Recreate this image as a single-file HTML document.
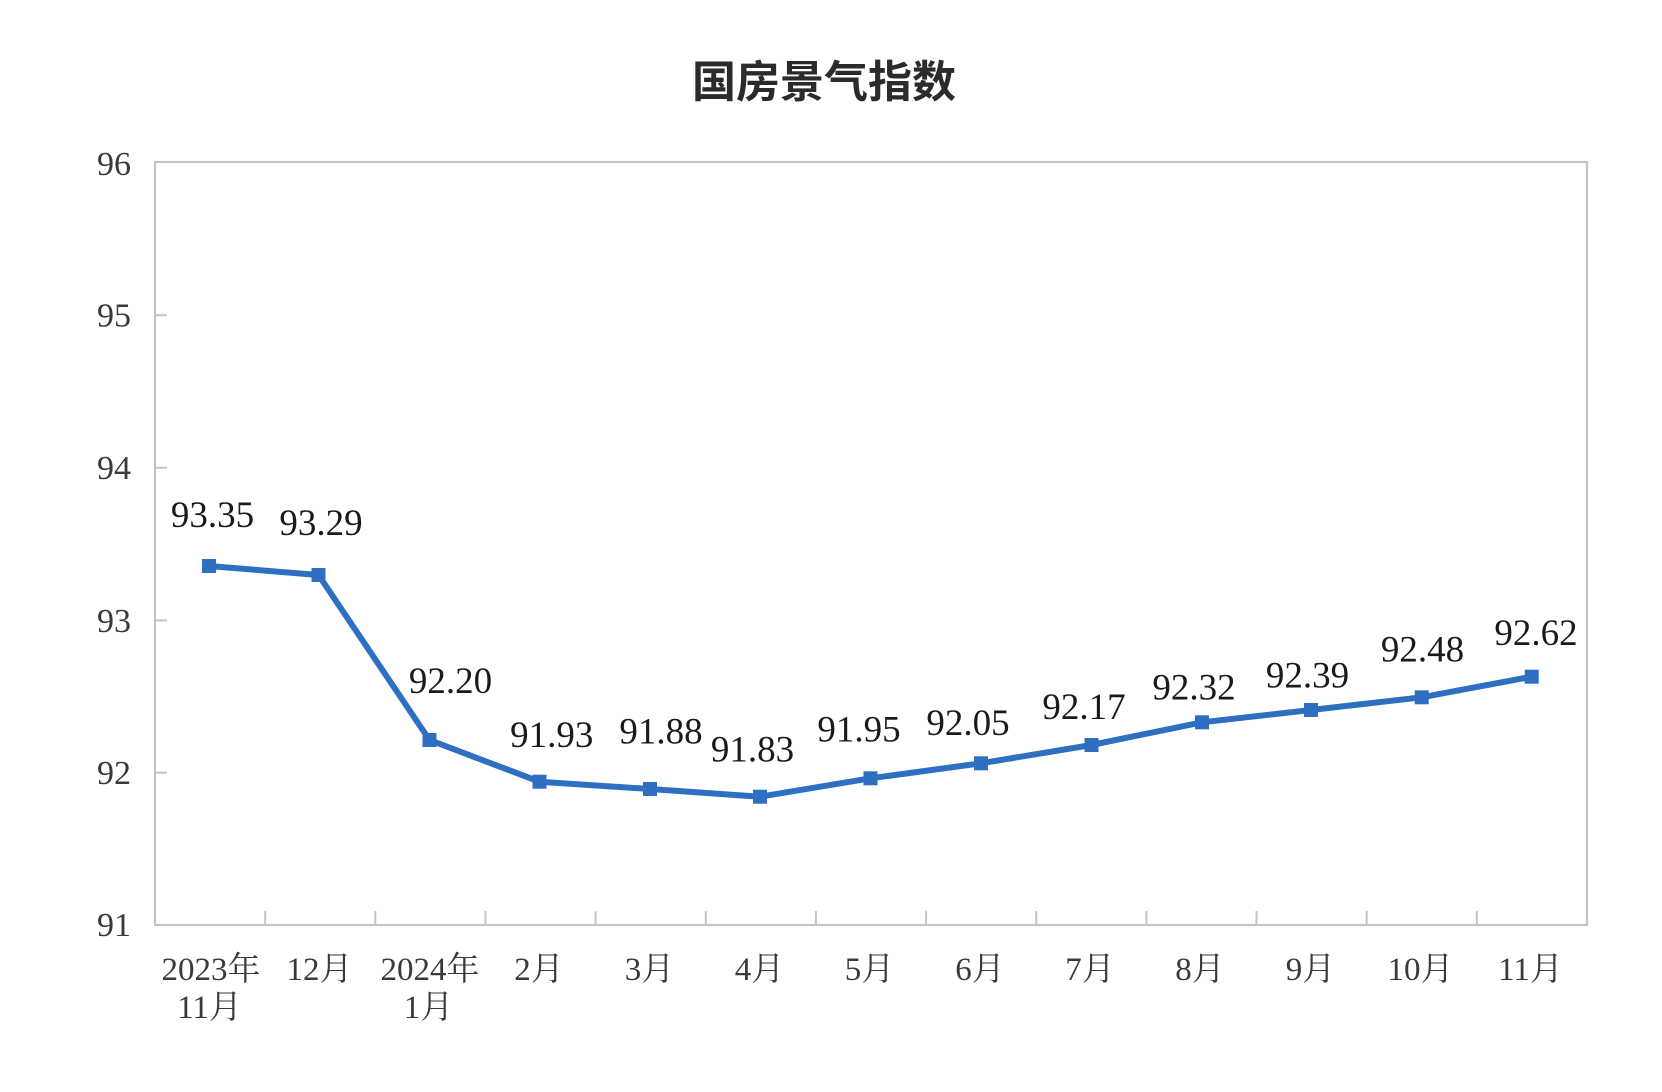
<!DOCTYPE html>
<html>
<head>
<meta charset="utf-8">
<style>
html,body{margin:0;padding:0;background:#fff;}
svg{display:block;}
.t{font-family:"Liberation Serif","Noto Serif CJK SC",serif;}
</style>
</head>
<body>
<svg width="1662" height="1092" viewBox="0 0 1662 1092" xmlns="http://www.w3.org/2000/svg">
<rect width="1662" height="1092" fill="#fff"/>
<!-- title -->
<text x="824" y="97" text-anchor="middle" font-family="'Noto Sans CJK SC','WenQuanYi Zen Hei',sans-serif" font-weight="bold" font-size="44" fill="#2b2b2b">国房景气指数</text>

<!-- plot frame -->
<rect x="155" y="162" width="1432" height="763" fill="none" stroke="#c4c4c4" stroke-width="2.2"/>

<!-- y ticks -->
<g stroke="#c4c4c4" stroke-width="2">
<line x1="155" y1="315.2" x2="167" y2="315.2"/>
<line x1="155" y1="467.8" x2="167" y2="467.8"/>
<line x1="155" y1="620.4" x2="167" y2="620.4"/>
<line x1="155" y1="772.7" x2="167" y2="772.7"/>
</g>
<!-- x ticks -->
<g stroke="#c4c4c4" stroke-width="2">
<line x1="265.2" y1="925" x2="265.2" y2="911"/>
<line x1="375.3" y1="925" x2="375.3" y2="911"/>
<line x1="485.5" y1="925" x2="485.5" y2="911"/>
<line x1="595.6" y1="925" x2="595.6" y2="911"/>
<line x1="705.8" y1="925" x2="705.8" y2="911"/>
<line x1="815.9" y1="925" x2="815.9" y2="911"/>
<line x1="926.1" y1="925" x2="926.1" y2="911"/>
<line x1="1036.2" y1="925" x2="1036.2" y2="911"/>
<line x1="1146.4" y1="925" x2="1146.4" y2="911"/>
<line x1="1256.5" y1="925" x2="1256.5" y2="911"/>
<line x1="1366.7" y1="925" x2="1366.7" y2="911"/>
<line x1="1476.8" y1="925" x2="1476.8" y2="911"/>
</g>

<!-- y labels -->
<g class="t" font-size="34" fill="#3a3a3a" text-anchor="end">
<text x="131" y="175">96</text>
<text x="131" y="326.5">95</text>
<text x="131" y="479">94</text>
<text x="131" y="632">93</text>
<text x="131" y="784">92</text>
<text x="131" y="936">91</text>
</g>

<!-- x labels -->
<g class="t" font-size="33" fill="#3a3a3a" text-anchor="middle">
<text x="211" y="980">2023年</text>
<text x="209.5" y="1018">11月</text>
<text x="319.5" y="980">12月</text>
<text x="430" y="980">2024年</text>
<text x="428.5" y="1018">1月</text>
<text x="539" y="980">2月</text>
<text x="649.5" y="980">3月</text>
<text x="759.5" y="980">4月</text>
<text x="869.5" y="980">5月</text>
<text x="980" y="980">6月</text>
<text x="1090" y="980">7月</text>
<text x="1200" y="980">8月</text>
<text x="1310.5" y="980">9月</text>
<text x="1420.5" y="980">10月</text>
<text x="1530.5" y="980">11月</text>
</g>

<!-- series line -->
<polyline fill="none" stroke="#2e6fc2" stroke-width="6" stroke-linejoin="round"
points="209,566 318.5,575 429.5,740 539.5,781.7 650,789 760,796.7 870.5,778.3 981,763.3 1091.5,745 1202,722.3 1311,710 1421.7,697.3 1531.7,676.7"/>
<!-- markers -->
<g fill="#2e6fc2">
<rect x="202" y="559" width="14" height="14"/>
<rect x="311.5" y="568" width="14" height="14"/>
<rect x="422.5" y="733" width="14" height="14"/>
<rect x="532.5" y="774.7" width="14" height="14"/>
<rect x="643" y="782" width="14" height="14"/>
<rect x="753" y="789.7" width="14" height="14"/>
<rect x="863.5" y="771.3" width="14" height="14"/>
<rect x="974" y="756.3" width="14" height="14"/>
<rect x="1084.5" y="738" width="14" height="14"/>
<rect x="1195" y="715.3" width="14" height="14"/>
<rect x="1304" y="703" width="14" height="14"/>
<rect x="1414.7" y="690.3" width="14" height="14"/>
<rect x="1524.7" y="669.7" width="14" height="14"/>
</g>

<!-- data labels -->
<g class="t" font-size="37" fill="#1a1a1a" text-anchor="middle">
<text x="212.5" y="527">93.35</text>
<text x="321" y="535">93.29</text>
<text x="450.5" y="693">92.20</text>
<text x="551.7" y="747">91.93</text>
<text x="661" y="743.3">91.88</text>
<text x="752.5" y="761.7">91.83</text>
<text x="859" y="741.7">91.95</text>
<text x="968" y="735">92.05</text>
<text x="1084" y="719">92.17</text>
<text x="1194" y="699.3">92.32</text>
<text x="1307.5" y="687.3">92.39</text>
<text x="1422.5" y="661.7">92.48</text>
<text x="1536" y="645">92.62</text>
</g>
</svg>
</body>
</html>
